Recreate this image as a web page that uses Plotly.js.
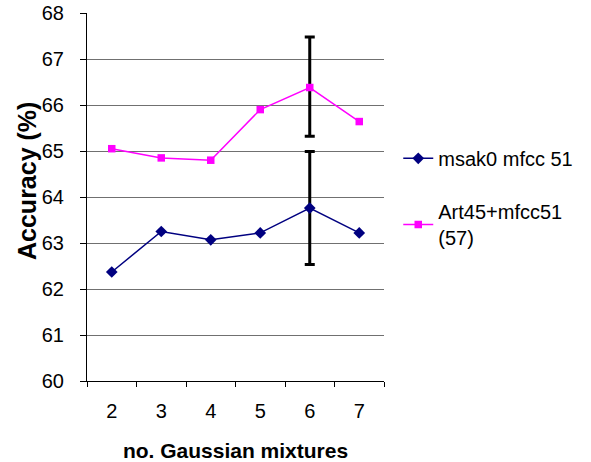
<!DOCTYPE html>
<html><head><meta charset="utf-8">
<script src="https://cdn.plot.ly/plotly-3.0.1.min.js"></script>
<style>body{margin:0;padding:0;background:#fff}#chart{width:591px;height:462px}</style>
</head><body><div id="chart"></div>
<script>
var categories = ['2','3','4','5','6','7'];
var msakName = 'msak0 mfcc 51';
var msakValues = [62.37, 63.25, 63.07, 63.22, 63.76, 63.22];
var msakErr = [NaN, NaN, NaN, NaN, 1.23, NaN];
var artName = 'Art45+mfcc51<br>(57)';
var artValues = [65.05, 64.85, 64.80, 65.90, 66.38, 65.64];
var artErrPlus = [NaN, NaN, NaN, NaN, 1.10, NaN];
var artErrMinus = [NaN, NaN, NaN, NaN, 1.06, NaN];
var yTicks = [60,61,62,63,64,65,66,67,68];
var xTitle = 'no. Gaussian mixtures';
var yTitle = 'Accuracy (%)';

var FONT = 'Liberation Sans, Arial, sans-serif';
var traces = [
  {x: categories, y: msakValues, name: msakName, type: 'scatter', mode: 'lines+markers',
   line: {color: '#000080', width: 1.5}, marker: {symbol: 'diamond', size: 9, color: '#000080'},
   error_y: {type: 'data', array: msakErr, visible: true, color: '#000000', thickness: 3, width: 5},
   legend: 'legend'},
  {x: categories, y: artValues, name: artName, type: 'scatter', mode: 'lines+markers',
   line: {color: '#FF00FF', width: 1.5}, marker: {symbol: 'square', size: 7.5, color: '#FF00FF'},
   error_y: {type: 'data', symmetric: false, array: artErrPlus, arrayminus: artErrMinus, visible: true, color: '#000000', thickness: 3, width: 5},
   legend: 'legend2'}
];
var layout = {
  width: 591, height: 462,
  margin: {l: 87, r: 207, t: 13, b: 81},
  paper_bgcolor: '#ffffff', plot_bgcolor: '#ffffff',
  font: {family: FONT, size: 20, color: '#000'},
  showlegend: true,
  legend: {x: 1.048, y: 0.605, xanchor: 'left', yanchor: 'middle', font: {family: FONT, size: 20}, bgcolor: 'rgba(0,0,0,0)'},
  legend2: {x: 1.048, y: 0.425, xanchor: 'left', yanchor: 'middle', font: {family: FONT, size: 20}, bgcolor: 'rgba(0,0,0,0)'},
  xaxis: {type: 'category', range: [-0.5, 5.5], showline: true, linecolor: '#000', linewidth: 1,
    ticks: 'outside', tickson: 'boundaries', ticklen: 5, tickcolor: '#000', showgrid: false, zeroline: false,
    ticklabelstandoff: 12,
    tickfont: {family: FONT, size: 20}, title: {text: '<b>' + xTitle + '</b>', font: {family: FONT, size: 21}, standoff: 22}},
  yaxis: {range: [60, 68], tickvals: yTicks, ticktext: yTicks.map(String), showline: true, linecolor: '#000', linewidth: 1,
    ticks: 'outside', ticklen: 6, tickcolor: '#000', showgrid: true, gridcolor: '#707070', gridwidth: 1, zeroline: false,
    ticklabelstandoff: 12,
    tickfont: {family: FONT, size: 20}},
  annotations: [{text: '<b>' + yTitle + '</b>', xref: 'paper', yref: 'paper', x: -0.202, y: 0.5435,
    xanchor: 'center', yanchor: 'middle', textangle: -90, showarrow: false, font: {family: FONT, size: 25}}]
};
Plotly.newPlot('chart', traces, layout, {displayModeBar: false, staticPlot: true});
</script></body></html>
